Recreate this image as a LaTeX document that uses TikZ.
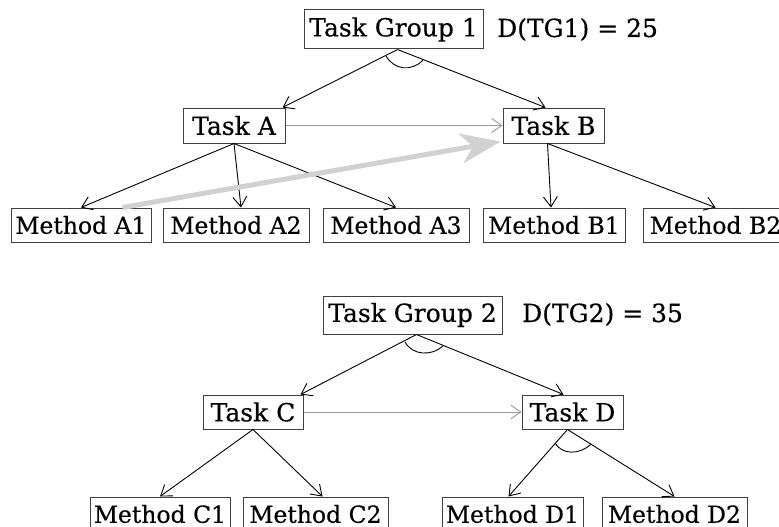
\documentclass[tikz,border=0pt]{standalone}
\usepackage{fontspec}
\setmainfont[FakeBold=0.4]{DejaVu Serif}
\usetikzlibrary{arrows.meta}

\begin{document}
\begin{tikzpicture}[x=1pt, y=-1pt,
        >={Straight Barb[length=10pt,width=14pt]},
        box/.style={draw=black!75, line width=1pt, inner sep=2pt, minimum height=35pt,
            font=\fontsize{25pt}{28pt}\selectfont},
        method/.style={box, inner xsep=1pt, minimum height=34pt, font=\fontsize{23.5pt}{28pt}\selectfont},
        label/.style={anchor=base west, inner sep=0pt, font=\fontsize{25pt}{28pt}\selectfont},
        edge/.style={line width=0.9pt, ->},
        order/.style={draw=black!40, line width=0.9pt, ->},
        hint/.style={draw=black!18, line width=5pt, -{Stealth[length=40pt,width=30pt,inset=12pt]}},
        andarc/.style={line width=0.9pt}]
            \useasboundingbox (0,0) rectangle (779,527);

            % first group
            \node[box, minimum width=179pt, minimum height=39pt] (tg1) at (393.5, 29.5) {Task Group 1};
            \node[label] (d1) at (497, 37) {D(TG1) = 25};
            \node[box, minimum width=102pt] (ta) at (234, 125.5) {Task A};
            \node[box, minimum width=101pt] (tb) at (553.5, 125.5) {Task B};
            \node[method, minimum width=140pt] (ma1) at (81, 225) {Method A1};
            \node[method, minimum width=146pt] (ma2) at (236, 225) {Method A2};
            \node[method, minimum width=146pt] (ma3) at (396, 225) {Method A3};
            \node[method, minimum width=142pt] (mb1) at (554, 225) {Method B1};
            \node[method, minimum width=145pt] (mb2) at (715.5, 225) {Method B2};

            % group 1 -> tasks
            \draw[edge] ([xshift=4pt]tg1.south) -- ([xshift=-3pt]ta.north east);
            \draw[edge] ([xshift=4pt]tg1.south) -- ([xshift=-8pt]tb.north);
            \draw[andarc] (386,56) .. controls (394,70) and (412,72) .. (423,60);

            % A -> methods
            \draw[edge] (ta.south) -- (ma1.north);
            \draw[edge] (ta.south) -- ([xshift=5pt]ma2.north);
            \draw[edge] (ta.south) -- (ma3.north);

            % B -> methods
            \draw[edge] ([xshift=-6pt]tb.south) -- ([xshift=-3pt]mb1.north);
            \draw[edge] ([xshift=-6pt]tb.south) -- (mb2.north);

            % A before B
            \draw[order] (ta.east) -- (tb.west);
            \draw[hint] ([xshift=-29pt]ma1.north east) -- ([xshift=-2pt,yshift=2pt]tb.south west);

            % second group
            \node[box, minimum width=179pt, minimum height=38pt] (tg2) at (412.5, 315) {Task Group 2};
            \node[label] (d2) at (522, 322) {D(TG2) = 35};
            \node[box, minimum width=100pt, minimum height=34pt] (tc) at (253, 412) {Task C};
            \node[box, minimum width=101pt, minimum height=34pt] (td) at (572.5, 412) {Task D};
            \node[method, minimum width=140pt] (mc1) at (160, 514) {Method C1};
            \node[method, minimum width=145pt] (mc2) at (315.5, 514) {Method C2};
            \node[method, minimum width=141pt] (md1) at (512.5, 514) {Method D1};
            \node[method, minimum width=145pt] (md2) at (674.5, 514) {Method D2};

            % group 2 -> tasks
            \draw[edge] ([xshift=4pt]tg2.south) -- ([xshift=-3pt]tc.north east);
            \draw[edge] ([xshift=4pt]tg2.south) -- ([xshift=-9pt]td.north);
            \draw[andarc] (405,342) .. controls (413,356) and (432,356) .. (443,346);

            % C -> methods
            \draw[edge] (tc.south) -- (mc1.north);
            \draw[edge] (tc.south) -- ([xshift=7pt]mc2.north);

            % D -> methods
            \draw[edge] ([xshift=-5pt]td.south) -- ([xshift=-4pt]md1.north);
            \draw[edge] ([xshift=-5pt]td.south) -- (md2.north);
            \draw[andarc] (555,443) .. controls (562,455) and (580,455) .. (591,444);

            % C before D
            \draw[order] (tc.east) -- (td.west);
        \end{tikzpicture}
\end{document}
